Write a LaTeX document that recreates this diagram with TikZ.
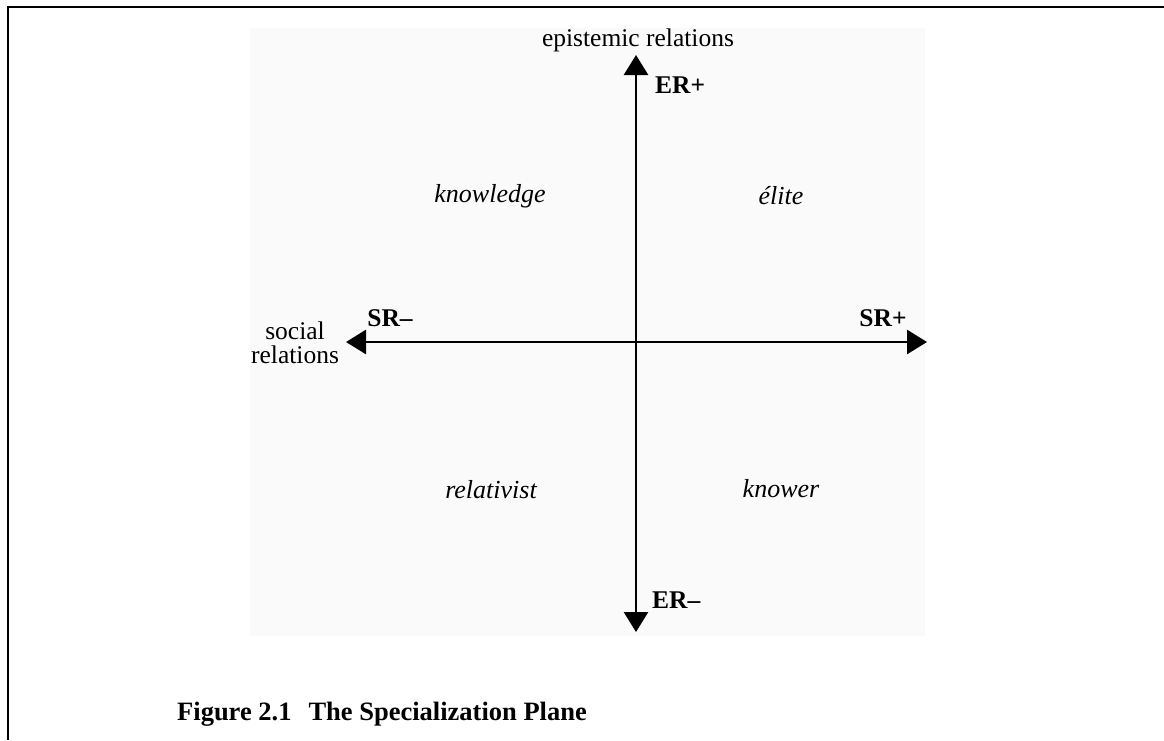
\documentclass[tikz,border=0pt]{standalone}
\usepackage{fontspec}
\setmainfont{Liberation Serif}
\usetikzlibrary{arrows.meta}
\tikzset{
  axisline/.style={line width=2.8pt, {Triangle[width=24pt,length=20pt]}-{Triangle[width=24pt,length=20pt]}},
  lbl/.style={inner sep=0pt, font=\fontsize{25.5}{24}\selectfont},
  quad/.style={lbl, font=\fontsize{26}{24}\selectfont\itshape},
  pole/.style={lbl, font=\fontsize{25.5}{24}\selectfont\bfseries},
  capt/.style={inner sep=0pt, font=\fontsize{26.5}{24}\selectfont\bfseries},
  frame/.style={line width=2.6pt}
}
\begin{document}
\begin{tikzpicture}[x=1pt,y=-1pt]
\useasboundingbox (0,0) rectangle (1164,740);
\fill[black!2] (250,28) rectangle (925,636);
% frame
\coordinate (fa) at (8,740);
\coordinate (fb) at (8,7);
\coordinate (fc) at (1164,7);
\draw[frame] (fa) -- (fb) -- (fc);
% axes
\coordinate (top) at (636,55);
\coordinate (bottom) at (636,632);
\coordinate (left) at (346,342);
\coordinate (right) at (927,342);
\draw[axisline] (bottom) -- (top);
\draw[axisline] (left) -- (right);
% labels
\node[lbl] (er) at (638,40) {epistemic relations};
\node[lbl, align=center] (sr) at (295,343) {social\\relations};
\node[pole, anchor=west] (erp) at (655,85) {ER+};
\node[pole, anchor=west] (erm) at (652,600) {ER–};
\node[pole] (srm) at (390,318) {SR–};
\node[pole] (srp) at (883,318) {SR+};
\node[quad] (q1) at (490,196) {knowledge};
\node[quad] (q2) at (781,196) {élite};
\node[quad] (q3) at (491,490) {relativist};
\node[quad] (q4) at (781,489) {knower};
\node[capt, anchor=base west] (cap) at (177,720) {Figure 2.1\hspace{17pt}The Specialization Plane};
\end{tikzpicture}
\end{document}
